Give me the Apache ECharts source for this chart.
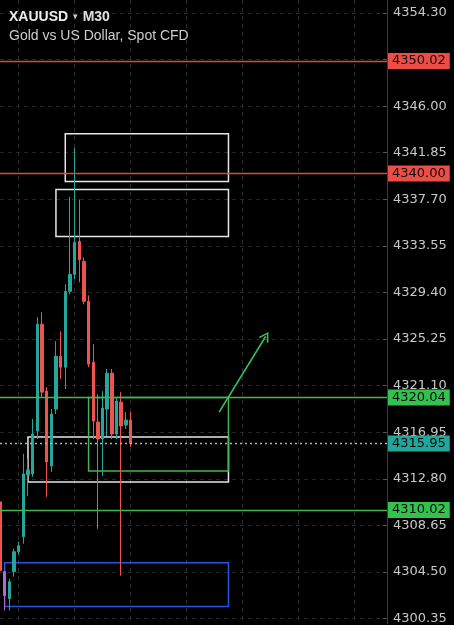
<!DOCTYPE html>
<html>
<head>
<meta charset="utf-8">
<script src="https://cdn.jsdelivr.net/npm/echarts@6/dist/echarts.min.js"></script>
<style>
html,body{margin:0;padding:0;background:#000;}
#c{width:454px;height:625px;}
</style>
</head>
<body>
<div id="c"></div>
<script>
// ---- data ----
var slotCount = 84; // visible 30-minute slots on the time axis
var opens  = [4310.74,4304.52,4302.12,4304.52,4306.30,4307.63,4313.14,4313.23,4317.06,4326.57,4320.61,4313.94,4319.01,4323.72,4322.74,4329.50,4331.01,4333.94,4332.17,4328.61,4323.19,4317.86,4316.34,4319.01,4322.21,4316.79,4319.63,4317.59,4318.03];
var closes = [4304.61,4302.39,4303.63,4306.30,4306.83,4313.23,4313.59,4316.79,4326.57,4320.52,4314.30,4318.57,4323.72,4322.74,4329.50,4331.01,4333.86,4332.34,4328.61,4323.01,4317.94,4316.34,4319.10,4322.21,4316.79,4319.72,4317.50,4318.03,4315.95];
var lows   = [4304.34,4301.06,4301.06,4304.08,4306.03,4307.01,4311.28,4312.97,4316.34,4320.08,4311.19,4313.41,4318.57,4321.68,4320.79,4329.23,4330.57,4330.30,4328.34,4322.74,4316.34,4308.34,4313.06,4316.61,4316.34,4316.34,4304.17,4317.23,4315.63];
var highs  = [4311.01,4304.61,4303.90,4306.57,4307.19,4315.01,4314.57,4318.12,4327.19,4327.63,4320.97,4319.01,4325.06,4325.94,4330.12,4337.94,4342.30,4337.68,4332.52,4329.14,4324.79,4320.34,4320.61,4322.57,4322.57,4320.08,4320.52,4318.74,4318.74];
var highlightedCandle = 1;
var tickValues = [4300.35,4304.50,4308.65,4312.80,4316.95,4321.10,4325.25,4329.40,4333.55,4337.70,4341.85,4346.00,4350.15,4354.30];
var yMin = 4299.90, yMax = 4355.46;
var resistanceLevels = [4350.02, 4340.00];
var supportLevels = [4320.04, 4310.02];
var lastPrice = 4315.95;
// zones: [startSlot, endSlot, top, bottom]
var whiteZones = [[14,49,4343.54,4339.28],[12,49,4338.57,4334.39],[6,49,4316.52,4312.52]];
var greenZone = [19,49,4320.04,4313.50];
var blueZone = [1,49,4305.32,4301.41];
var arrowFrom = [47,4318.74], arrowTo = [57,4325.50];

// ---- build ----
var categories = [];
for (var i = 0; i < slotCount; i++) categories.push('S' + i);
var candleData = [];
for (var j = 0; j < opens.length; j++) {
  var item = { value: [opens[j], closes[j], lows[j], highs[j]] };
  if (j === highlightedCandle) item.itemStyle = { color: '#b06ad8', color0: '#b06ad8', borderColor: '#b06ad8', borderColor0: '#b06ad8' };
  candleData.push(item);
}
var FONT = 'DejaVu Sans';
function levelLine(v, lineColor, boxColor, dashed) {
  return {
    yAxis: v,
    lineStyle: { color: lineColor, width: 1.4, opacity: 1, type: dashed ? [2, 3] : 'solid' },
    label: {
      show: true, position: 'end', distance: 1,
      formatter: v.toFixed(2),
      backgroundColor: boxColor, color: '#0a0a0a',
      fontFamily: FONT, fontSize: 13, padding: [2, 4, 1, 4]
    }
  };
}
var lines = [];
resistanceLevels.forEach(function (v) { lines.push(levelLine(v, '#e0473f', '#ec4d44', false)); });
supportLevels.forEach(function (v) { lines.push(levelLine(v, '#44b54f', '#34c24f', false)); });
lines.push(levelLine(lastPrice, '#9dbdba', '#22a69c', true));
lines.push([
  { coord: arrowFrom, symbol: 'none', lineStyle: { color: '#34c25a', width: 1.6, type: 'solid', opacity: 1 }, label: { show: false } },
  { coord: arrowTo, symbol: 'path://M5,0 L10,8 L8.8,9 L5,2.4 L1.2,9 L0,8 Z', symbolSize: [11, 10] }
]);
function zone(z, color) {
  return [
    { xAxis: z[0], yAxis: z[2], itemStyle: { color: 'rgba(0,0,0,0)', borderColor: color, borderWidth: 1.5 } },
    { xAxis: z[1], yAxis: z[3] }
  ];
}
var areas = whiteZones.map(function (z) { return zone(z, '#e6e6e6'); });
areas.push(zone(greenZone, '#44b54f'));
areas.push(zone(blueZone, '#2756e0'));

var chart = echarts.init(document.getElementById('c'), null, { renderer: 'canvas' });
chart.setOption({
  backgroundColor: '#000',
  animation: false,
  title: {
    text: '{s|XAUUSD} {t|▾} {m|M30}',
    subtext: 'Gold vs US Dollar, Spot CFD',
    left: 4, top: 3, itemGap: 3,
    textStyle: {
      rich: {
        s: { fontFamily: 'Liberation Sans', fontWeight: 'bold', fontSize: 14, color: '#ececec' },
        t: { fontFamily: 'DejaVu Sans', fontSize: 9, color: '#cfcfcf' },
        m: { fontFamily: 'Liberation Sans', fontSize: 14, color: '#e0e0e0' }
      }
    },
    subtextStyle: { fontFamily: 'Liberation Sans', fontSize: 14, color: '#cdcdcd' }
  },
  grid: { left: 0, right: 67, top: 0, bottom: 0 },
  xAxis: {
    type: 'category', data: categories, boundaryGap: false,
    axisLine: { show: false }, axisTick: { show: false }, axisLabel: { show: false },
    splitLine: { show: true, interval: function (idx) { return idx % 12 === 4; }, lineStyle: { color: '#2b2b2b', type: [4, 4] } }
  },
  yAxis: {
    type: 'value', position: 'right', min: yMin, max: yMax, scale: true,
    axisLine: { show: true, lineStyle: { color: '#3a3a3a' } },
    axisTick: { show: true, inside: true, length: 4, customValues: tickValues, lineStyle: { color: '#555' } },
    axisLabel: { customValues: tickValues, formatter: function (v) { return v.toFixed(2); }, color: '#c8c8c8', fontFamily: FONT, fontSize: 13, margin: 6 },
    splitLine: { show: true, lineStyle: { color: '#262626', type: [4, 4] } }
  },
  series: [{
    type: 'candlestick',
    data: candleData,
    barWidth: 3,
    itemStyle: { color: '#26a69a', color0: '#ef5350', borderColor: '#26a69a', borderColor0: '#ef5350', borderWidth: 1 },
    markLine: { silent: true, symbol: 'none', animation: false, lineStyle: { opacity: 1 }, data: lines },
    markArea: { silent: true, animation: false, data: areas }
  }]
});
</script>
</body>
</html>
